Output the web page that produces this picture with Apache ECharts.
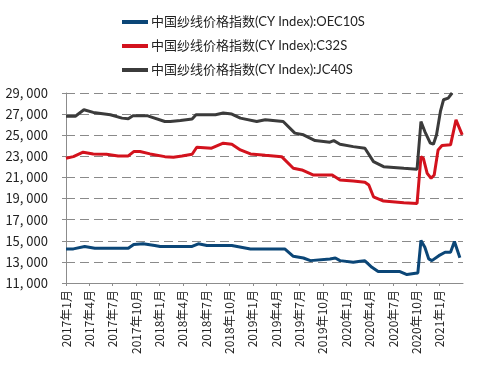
<!DOCTYPE html>
<html>
<head>
<meta charset="utf-8">
<script src="https://cdn.jsdelivr.net/npm/echarts@6/dist/echarts.min.js"></script>
<style>
  html, body { margin: 0; padding: 0; background: #fff; }
  #chart { width: 477px; height: 376px; }
</style>
</head>
<body>
<div id="chart"></div>
<script>
// x positions are months since 2017年1月
const tickLabels = ['2017年1月', '2017年4月', '2017年7月', '2017年10月', '2018年1月', '2018年4月', '2018年7月', '2018年10月',
    '2019年1月', '2019年4月', '2019年7月', '2019年10月', '2020年1月', '2020年4月', '2020年7月', '2020年10月', '2021年1月', '2021年4月'];

const seriesNames = ['中国纱线价格指数(CY Index):OEC10S', '中国纱线价格指数(CY Index):C32S', '中国纱线价格指数(CY Index):JC40S'];

const oecMonths = [0, 0.95, 2.4, 3.7, 8.0, 8.7, 9.9, 11.4, 12.1, 16.2, 17.0, 18.1, 21.3, 23.7, 28.1, 29.2, 30.5, 31.4, 33.9, 34.6,
    35.2, 36.9, 37.8, 38.4, 39.3, 40.1, 42.9, 43.8, 44.9, 45.2, 45.6, 46.1, 46.6, 47.0, 47.9, 48.7, 49.4, 49.9, 50.6];
const oecValues = [14230, 14230, 14460, 14290, 14290, 14650, 14710, 14560, 14460, 14460, 14710, 14560, 14560, 14230, 14230, 13530, 13370, 13120, 13280, 13370,
    13120, 12960, 13060, 13100, 12490, 12080, 12080, 11800, 11920, 11950, 15030, 14390, 13280, 13120, 13590, 13910, 13910, 14930, 13400];

const c32Months = [0, 0.95, 2.2, 3.5, 5.2, 6.7, 8.0, 8.7, 9.5, 10.8, 12.7, 13.8, 14.9, 16.2, 16.8, 18.7, 20.2, 21.3, 22.4, 23.7,
    25.6, 27.7, 29.2, 30.3, 31.8, 34.2, 35.2, 36.9, 38.4, 38.9, 39.5, 40.8, 43.4, 45.1, 45.6, 45.9, 46.4, 46.9, 47.3, 47.8,
    48.3, 49.4, 50.1, 50.9];
const c32Values = [22820, 22970, 23390, 23230, 23200, 23040, 23040, 23450, 23450, 23230, 22970, 22910, 23040, 23200, 23860, 23770, 24250, 24150, 23610, 23230,
    23100, 22970, 21870, 21710, 21230, 21230, 20760, 20660, 20550, 20280, 19170, 18760, 18600, 18540, 22970, 22820, 21390, 20920, 21230, 23610,
    24020, 24090, 26460, 25040];

const jc40Months = [0, 1.2, 2.3, 3.5, 5.7, 7.2, 8.0, 8.6, 10.5, 12.7, 13.4, 14.7, 16.2, 16.7, 19.2, 20.2, 21.3, 22.4, 24.5, 25.6,
    27.9, 29.4, 30.5, 32.0, 33.9, 34.4, 35.2, 36.9, 38.4, 38.6, 39.5, 40.8, 43.4, 45.1, 45.6, 46.1, 46.8, 47.2, 47.6, 48.1,
    48.5, 49.1, 49.6];
const jc40Values = [26800, 26800, 27410, 27160, 26940, 26620, 26560, 26840, 26840, 26300, 26300, 26400, 26530, 26940, 26940, 27100, 27000, 26620, 26300, 26460,
    26300, 25200, 25040, 24490, 24340, 24490, 24150, 23920, 23770, 23610, 22500, 22020, 21870, 21780, 26300, 25350, 24250, 24150, 25040, 27250,
    28360, 28520, 29000];

const colors = ['#0b4677', '#d3121d', '#3b3b3b'];

const pairs = (xs, ys) => xs.map((x, i) => [x, ys[i]]);

const chart = echarts.init(document.getElementById('chart'));
const font = '"Noto Sans CJK SC", sans-serif';

chart.setOption({
    animation: false,
    color: colors,
    legend: {
        orient: 'vertical',
        left: 122,
        top: 15,
        padding: 0,
        icon: 'rect',
        itemWidth: 26,
        itemHeight: 4,
        itemGap: 10,
        textStyle: {
            color: '#222',
            fontSize: 13,
            lineHeight: 14,
            fontFamily: 'Lato, "Noto Sans CJK SC", sans-serif',
            padding: [0, 0, 0, -2]
        },
        data: seriesNames
    },
    grid: {
        left: 66,
        right: 14,
        top: 93,
        bottom: 93
    },
    xAxis: {
        type: 'value',
        min: 0,
        max: 51,
        interval: 3,
        splitLine: {show: false},
        axisLine: {lineStyle: {color: '#8c8c8c'}},
        axisTick: {show: true, length: 3, lineStyle: {color: '#8c8c8c'}},
        axisLabel: {
            rotate: 90,
            margin: 7,
            color: '#222',
            fontSize: 12,
            fontFamily: font,
            showMaxLabel: false,
            formatter: v => tickLabels[Math.round(v / 3)] || ''
        }
    },
    yAxis: {
        type: 'value',
        min: 11000,
        max: 29000,
        interval: 2000,
        axisLine: {show: true, lineStyle: {color: '#8c8c8c'}},
        axisTick: {show: true, length: 4, lineStyle: {color: '#8c8c8c'}},
        splitLine: {
            show: true,
            lineStyle: {color: '#8a8a8a', type: [9, 5], width: 1}
        },
        axisLabel: {
            color: '#222',
            fontSize: 13,
            margin: 18,
            fontFamily: font,
            formatter: v => String(v).replace(/(\d+)(\d{3})$/, '$1, $2')
        }
    },
    series: [
        {name: seriesNames[0], type: 'line', showSymbol: false, lineStyle: {width: 3}, data: pairs(oecMonths, oecValues)},
        {name: seriesNames[1], type: 'line', showSymbol: false, lineStyle: {width: 3}, data: pairs(c32Months, c32Values)},
        {name: seriesNames[2], type: 'line', showSymbol: false, lineStyle: {width: 3}, data: pairs(jc40Months, jc40Values)}
    ]
});
</script>
</body>
</html>
